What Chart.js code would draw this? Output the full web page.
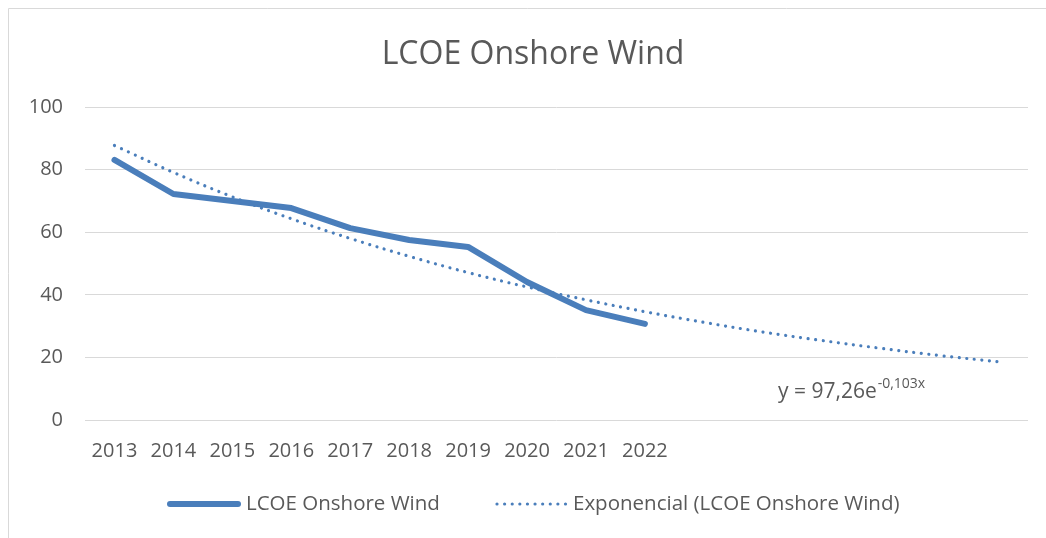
<!DOCTYPE html>
<html>
<head>
<meta charset="utf-8">
<script src="https://cdn.jsdelivr.net/npm/chart.js@4.4.0/dist/chart.umd.min.js"></script>
<style>
  html, body { margin: 0; padding: 0; background: #fff; }
  #wrap { width: 1046px; height: 538px; position: relative; }
  canvas { display: block; }
</style>
</head>
<body>
<div id="wrap"><canvas id="c" width="1046" height="538"></canvas></div>
<script>
// ---- data ----
const years = ['2013', '2014', '2015', '2016', '2017', '2018', '2019', '2020', '2021', '2022'];
const forecastSlots = ['', '', '', '', '', ''];
const lcoeValues = [83.1, 72.2, 70.0, 67.7, 61.3, 57.5, 55.3, 44.1, 35.1, 30.7];
const trendValues = [87.7, 79.1, 71.3, 64.3, 58.0, 52.3, 47.1, 42.5, 38.4, 34.6, 31.2, 28.1, 25.4, 22.9, 20.6, 18.6];
const yTicks = [0, 20, 40, 60, 80, 100];
const titleText = 'LCOE Onshore Wind';
const seriesLabel = 'LCOE Onshore Wind';
const trendLabel = 'Exponencial (LCOE Onshore Wind)';
const eqMain = 'y = 97,26e';
const eqSup = '-0,103x';

const FONT = '"Open Sans", "Liberation Sans", sans-serif';
const TXT = '#595959';
const BLUE = '#4a7ebb';

const decor = {
  id: 'decor',
  beforeDraw(chart) {
    const ctx = chart.ctx;
    ctx.save();
    ctx.strokeStyle = '#d9d9d9';
    ctx.lineWidth = 1;
    ctx.beginPath();
    ctx.moveTo(8.5, 538);
    ctx.lineTo(8.5, 8.5);
    ctx.lineTo(1046, 8.5);
    ctx.stroke();
    ctx.restore();
  },
  afterDraw(chart) {
    const ctx = chart.ctx;
    ctx.save();
    ctx.fillStyle = TXT;
    // title
    ctx.font = '32px ' + FONT;
    ctx.textAlign = 'center';
    ctx.textBaseline = 'alphabetic';
    ctx.fillText(titleText, 533, 64);
    // equation
    ctx.textAlign = 'left';
    ctx.font = '21px ' + FONT;
    ctx.fillText(eqMain, 778, 398);
    const w = ctx.measureText(eqMain).width;
    ctx.font = '14px ' + FONT;
    ctx.fillText(eqSup, 778 + w + 1, 388);
    // legend
    const ds = chart.data.datasets;
    const ly = 504;
    ctx.lineCap = 'round';
    ctx.strokeStyle = ds[0].borderColor;
    ctx.lineWidth = 6;
    ctx.beginPath();
    ctx.moveTo(170, ly); ctx.lineTo(238, ly); ctx.stroke();
    ctx.font = '20.5px ' + FONT;
    ctx.textBaseline = 'middle';
    ctx.fillText(ds[0].label, 246, ly);
    ctx.strokeStyle = ds[1].borderColor;
    ctx.lineWidth = 3.2;
    ctx.setLineDash([0.01, 7.6]);
    ctx.beginPath();
    ctx.moveTo(497, ly); ctx.lineTo(566, ly); ctx.stroke();
    ctx.setLineDash([]);
    ctx.fillText(ds[1].label, 573, ly);
    ctx.restore();
  }
};

new Chart(document.getElementById('c'), {
  type: 'line',
  data: {
    labels: years.concat(forecastSlots),
    datasets: [
      {
        label: seriesLabel,
        data: lcoeValues,
        borderColor: BLUE,
        borderWidth: 6,
        pointRadius: 0,
        tension: 0,
        borderJoinStyle: 'round',
        borderCapStyle: 'round',
        fill: false,
        order: 1
      },
      {
        label: trendLabel,
        data: trendValues,
        borderColor: BLUE,
        borderWidth: 3.2,
        borderDash: [0.01, 7.6],
        borderCapStyle: 'round',
        pointRadius: 0,
        tension: 0.4,
        fill: false,
        order: 2
      }
    ]
  },
  options: {
    responsive: false,
    devicePixelRatio: 1,
    animation: false,
    layout: { padding: { top: 107, right: 18, bottom: 78, left: 0 } },
    plugins: {
      legend: { display: false },
      title: { display: false },
      tooltip: { enabled: false }
    },
    scales: {
      x: {
        type: 'category',
        offset: true,
        grid: { display: false, drawTicks: false },
        border: { display: false },
        ticks: { color: TXT, font: { family: FONT, size: 20 }, padding: 19, maxRotation: 0, autoSkip: false },
        afterFit(scale) { scale.height = 40; }
      },
      y: {
        min: 0,
        max: 100,
        afterBuildTicks(scale) { scale.ticks = yTicks.map(v => ({ value: v })); },
        grid: { color: '#d9d9d9', lineWidth: 1, drawTicks: false },
        border: { display: false },
        ticks: { color: TXT, font: { family: FONT, size: 20 }, padding: 22 },
        afterFit(scale) { scale.width = 85; }
      }
    }
  },
  plugins: [decor]
});
</script>
</body>
</html>
